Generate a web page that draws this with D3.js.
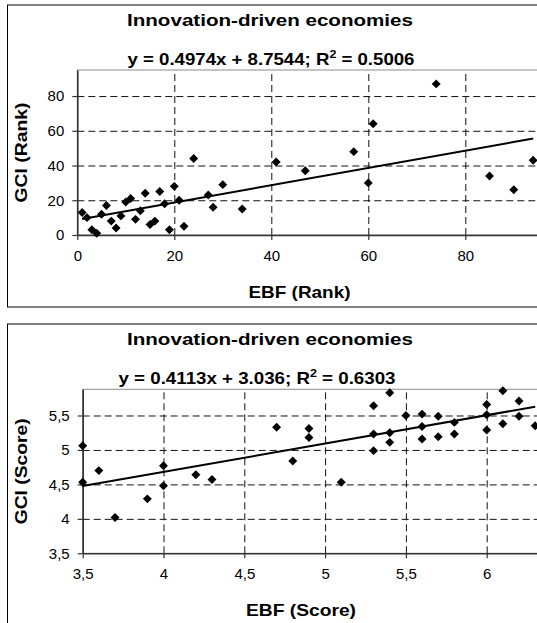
<!DOCTYPE html>
<html>
<head>
<meta charset="utf-8">
<script src="https://cdn.jsdelivr.net/npm/d3@7"></script>
<style>
  html, body { margin: 0; padding: 0; overflow: hidden; background: #fff; }
  svg text { font-family: 'Liberation Sans', Arial, sans-serif; fill: #000; }
</style>
</head>
<body>
<div id="app"></div>
<script>
const chartTitle = 'Innovation-driven economies';

// rank chart
const rankEbf = [1, 2, 3, 4, 5, 6, 7, 8, 9, 10, 11, 12, 13, 14, 15, 16, 17, 18, 19, 20, 21, 22,
  24, 27, 28, 30, 34, 41, 47, 57, 60, 61, 74, 85, 90, 94];
const rankGci = [13, 10, 3, 1, 12, 17, 8, 4, 11, 19, 21, 9, 14, 24, 6, 8, 25, 18, 3, 28, 20, 5,
  44, 23, 16, 29, 15, 42, 37, 48, 30, 64, 87, 34, 26, 43];
const rankXTicks = [0, 20, 40, 60, 80];
const rankYTicks = [0, 20, 40, 60, 80];
const rankFit = [0.4974, 8.7544, 0.5006];

// score chart
const scoreEbf = [3.5, 3.5, 3.6, 3.7, 3.9, 4.0, 4.0, 4.2, 4.3, 4.7, 4.8, 4.9, 4.9, 5.1, 5.3, 5.3,
  5.3, 5.4, 5.4, 5.4, 5.5, 5.6, 5.6, 5.6, 5.7, 5.7, 5.8, 5.8, 6.0, 6.0, 6.0, 6.1, 6.1, 6.2, 6.2, 6.3];
const scoreGci = [5.06, 4.53, 4.70, 4.02, 4.29, 4.77, 4.48, 4.64, 4.57, 5.33, 4.84, 5.31, 5.18,
  4.53, 5.64, 5.23, 4.99, 5.83, 5.25, 5.11, 5.50, 5.52, 5.34, 5.16, 5.49, 5.19, 5.40, 5.23, 5.66,
  5.51, 5.29, 5.86, 5.38, 5.71, 5.49, 5.35];
const scoreXTicks = [3.5, 4, 4.5, 5, 5.5, 6];
const scoreYTicks = [3.5, 4, 4.5, 5, 5.5];
const scoreFit = [0.4113, 3.036, 0.6303];

const svg = d3.select('#app').append('svg')
  .attr('width', 640)
  .attr('height', 660);

const commaDecimal = d => String(d).replace('.', ',');

const diamond = d3.symbol().type(d3.symbolSquare).size(40);

const drawChart = ({ box, plot, xDomain, yDomain, xTicks, yTicks, xs, ys, fit, xLabel, yLabel, text }) => {
  const g = svg.append('g');

  g.append('rect')
    .attr('x', box.x).attr('y', box.y)
    .attr('width', box.w).attr('height', box.h)
    .attr('fill', '#fff')
    .attr('stroke', '#000')
    .attr('stroke-width', 1);

  const x = d3.scaleLinear().domain(xDomain).range([plot.left, plot.right]);
  const y = d3.scaleLinear().domain(yDomain).range([plot.bottom, plot.top]);

  g.append('rect')
    .attr('x', plot.left).attr('y', plot.top)
    .attr('width', plot.right - plot.left).attr('height', plot.bottom - plot.top)
    .attr('fill', 'none')
    .attr('stroke', '#8c8c8c')
    .attr('stroke-width', 1);

  // dashed grid
  g.append('g')
    .attr('transform', `translate(0,${plot.bottom})`)
    .call(d3.axisBottom(x).tickValues(xTicks.slice(1)).tickSize(-(plot.bottom - plot.top)).tickFormat(''))
    .call(a => a.select('.domain').remove())
    .selectAll('line')
    .attr('stroke', '#111')
    .attr('stroke-dasharray', '7,4');

  g.append('g')
    .attr('transform', `translate(${plot.left},0)`)
    .call(d3.axisLeft(y).tickValues(yTicks.slice(1)).tickSize(-(plot.right - plot.left)).tickFormat(''))
    .call(a => a.select('.domain').remove())
    .selectAll('line')
    .attr('stroke', '#111')
    .attr('stroke-dasharray', '7,4');

  const styleAxis = a => {
    a.select('.domain').attr('stroke', '#333').attr('stroke-width', 1.6);
    a.selectAll('.tick line').attr('stroke', '#333').attr('stroke-width', 1.2);
    a.selectAll('.tick text')
      .attr('font-size', 15)
      .attr('font-family', "'Liberation Sans', Arial, sans-serif")
      .attr('fill', '#000');
  };

  g.append('g')
    .attr('transform', `translate(0,${plot.bottom})`)
    .call(d3.axisBottom(x).tickValues(xTicks).tickSize(5).tickSizeOuter(0).tickPadding(10).tickFormat(commaDecimal))
    .call(styleAxis);

  g.append('g')
    .attr('transform', `translate(${plot.left},0)`)
    .call(d3.axisLeft(y).tickValues(yTicks).tickSize(5).tickSizeOuter(0).tickPadding(8).tickFormat(commaDecimal))
    .call(styleAxis);

  g.append('g')
    .selectAll('path')
    .data(xs.map((v, i) => [v, ys[i]]))
    .join('path')
    .attr('d', diamond)
    .attr('transform', d => `translate(${x(d[0])},${y(d[1])}) rotate(45)`)
    .attr('fill', '#000');

  const [slope, intercept, r2] = fit;
  const fitLine = d3.line().x(d => x(d)).y(d => y(slope * d + intercept));
  g.append('path')
    .attr('d', fitLine(d3.extent(xs)))
    .attr('fill', 'none')
    .attr('stroke', '#000')
    .attr('stroke-width', 2);

  g.append('text')
    .attr('x', text.titleX).attr('y', box.y + 21)
    .attr('text-anchor', 'middle')
    .attr('font-size', 16.5).attr('font-weight', 'bold')
    .attr('textLength', text.titleLen).attr('lengthAdjust', 'spacingAndGlyphs')
    .text(chartTitle);

  const eq = g.append('text')
    .attr('x', text.eqX).attr('y', box.y + 60)
    .attr('text-anchor', 'middle')
    .attr('font-size', 16.5).attr('font-weight', 'bold')
    .attr('textLength', text.eqLen).attr('lengthAdjust', 'spacingAndGlyphs');
  eq.append('tspan').text(`y = ${slope}x + ${intercept}; R`);
  eq.append('tspan').attr('dy', -7).attr('font-size', 11).text('2');
  eq.append('tspan').attr('dy', 7).text(` = ${r2}`);

  g.append('text')
    .attr('x', text.xLabelX).attr('y', plot.bottom + 63)
    .attr('text-anchor', 'middle')
    .attr('font-size', 16.5).attr('font-weight', 'bold')
    .attr('textLength', text.xLabelLen).attr('lengthAdjust', 'spacingAndGlyphs')
    .text(xLabel);

  g.append('text')
    .attr('transform', `translate(26.5,${(plot.top + plot.bottom) / 2}) rotate(-90)`)
    .attr('text-anchor', 'middle')
    .attr('font-size', 16.5).attr('font-weight', 'bold')
    .attr('textLength', text.yLabelLen).attr('lengthAdjust', 'spacingAndGlyphs')
    .text(yLabel);
};

drawChart({
  box: { x: 7.5, y: 5, w: 620, h: 302 },
  plot: { left: 77.3, right: 562.3, top: 70, bottom: 235 },
  xDomain: [0, 100],
  yDomain: [0, 95],
  xTicks: rankXTicks,
  yTicks: rankYTicks,
  xs: rankEbf,
  ys: rankGci,
  fit: rankFit,
  xLabel: 'EBF (Rank)',
  yLabel: 'GCI (Rank)',
  text: { titleX: 270, titleLen: 286, eqX: 271, eqLen: 287, xLabelX: 299.5, xLabelLen: 102, yLabelLen: 100 }
});

drawChart({
  box: { x: 7.5, y: 324, w: 620, h: 330 },
  plot: { left: 82.7, right: 567.5, top: 389.3, bottom: 553.3 },
  xDomain: [3.5, 6.5],
  yDomain: [3.5, 5.88],
  xTicks: scoreXTicks,
  yTicks: scoreYTicks,
  xs: scoreEbf,
  ys: scoreGci,
  fit: scoreFit,
  xLabel: 'EBF (Score)',
  yLabel: 'GCI (Score)',
  text: { titleX: 270, titleLen: 286, eqX: 257, eqLen: 277, xLabelX: 301, xLabelLen: 110, yLabelLen: 106 }
});
</script>
</body>
</html>
